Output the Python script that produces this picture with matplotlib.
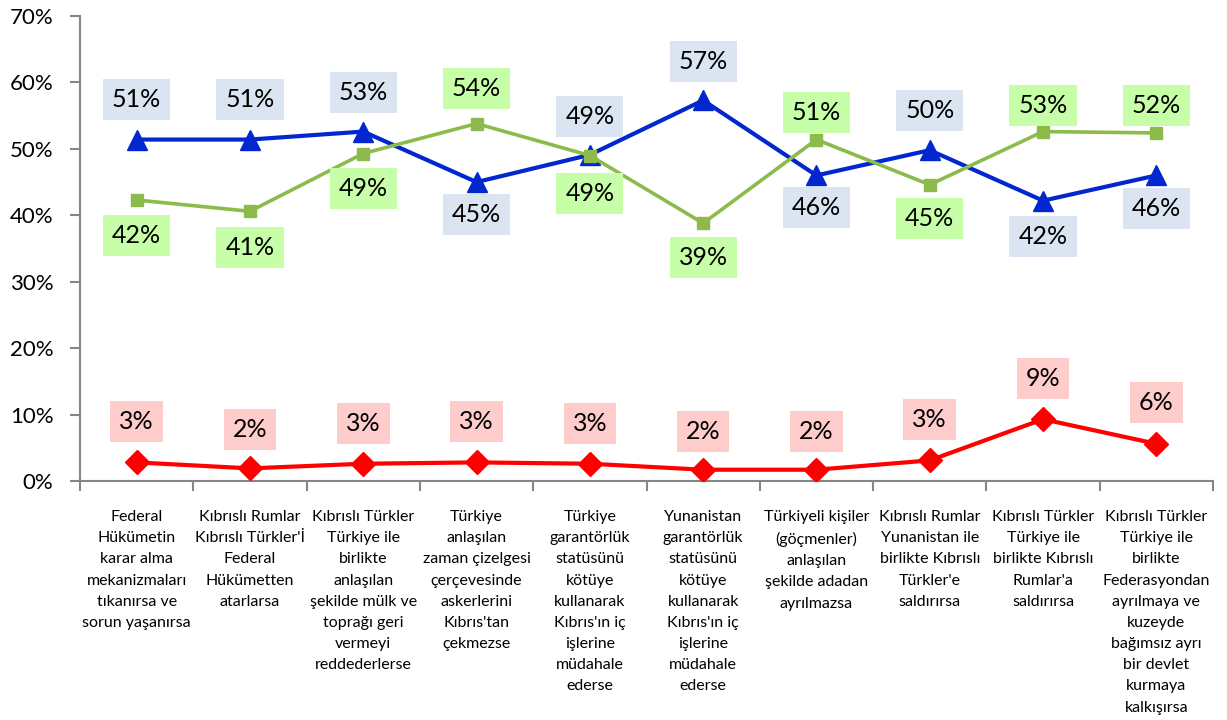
import matplotlib
matplotlib.use('Agg')
from matplotlib import pyplot as plt
from matplotlib.ticker import FixedLocator, PercentFormatter
import numpy as np

plt.rcParams['font.family'] = ['Lato', 'DejaVu Sans']

categories = [
    'Federal\nHükümetin\nkarar alma\nmekanizmaları\ntıkanırsa ve\nsorun yaşanırsa',
    "Kıbrıslı Rumlar\nKıbrıslı Türkler'İ\nFederal\nHükümetten\natarlarsa",
    'Kıbrıslı Türkler\nTürkiye ile\nbirlikte\nanlaşılan\nşekilde mülk ve\ntoprağı geri\nvermeyi\nreddederlerse',
    "Türkiye\nanlaşılan\nzaman çizelgesi\nçerçevesinde\naskerlerini\nKıbrıs'tan\nçekmezse",
    "Türkiye\ngarantörlük\nstatüsünü\nkötüye\nkullanarak\nKıbrıs'ın iç\nişlerine\nmüdahale\nederse",
    "Yunanistan\ngarantörlük\nstatüsünü\nkötüye\nkullanarak\nKıbrıs'ın iç\nişlerine\nmüdahale\nederse",
    'Türkiyeli kişiler\n(göçmenler)\nanlaşılan\nşekilde adadan\nayrılmazsa',
    "Kıbrıslı Rumlar\nYunanistan ile\nbirlikte Kıbrıslı\nTürkler'e\nsaldırırsa",
    "Kıbrıslı Türkler\nTürkiye ile\nbirlikte Kıbrıslı\nRumlar'a\nsaldırırsa",
    'Kıbrıslı Türkler\nTürkiye ile\nbirlikte\nFederasyondan\nayrılmaya ve\nkuzeyde\nbağımsız ayrı\nbir devlet\nkurmaya\nkalkışırsa',
]

blue_vals = [51.4, 51.4, 52.6, 45.0, 49.1, 57.3, 46.0, 49.8, 42.2, 46.0]
green_vals = [42.3, 40.6, 49.3, 53.8, 49.0, 38.8, 51.4, 44.6, 52.6, 52.4]
red_vals = [2.8, 1.9, 2.6, 2.8, 2.6, 1.7, 1.7, 3.1, 9.3, 5.6]

# label offsets in pixels (+ above, - below the marker)
blue_off = [40, 40, 39, -32, 38, 39, -32, 40, -36, -33]
green_off = [-35, -36, -35, 35, -38, -34, 27, -34, 26, 27]
red_off = [41, 39, 40, 41, 40, 38, 38, 41, 41, 41]

series = [
    (blue_vals, '#0327CF', '^', 14, 3.0, '#DBE5F1', blue_off),
    (green_vals, '#8CBB4C', 's', 9, 2.6, '#C6FFA8', green_off),
    (red_vals, '#FF0000', 'D', 12, 3.0, '#FFCCCC', red_off),
]

fig = plt.figure(figsize=(12.27, 7.2), dpi=100)
ax = fig.add_axes([80 / 1227, 1 - 481 / 720, (1213 - 80) / 1227, (481 - 16) / 720])

x = np.arange(len(categories))
for vals, col, mk, ms, lw, boxcol, offs in series:
    ax.plot(x, vals, color=col, lw=lw, marker=mk, markersize=ms,
            markeredgecolor=col, zorder=3)
    for xi, v, off in zip(x, vals, offs):
        ax.annotate(f'{v:.0f}%', (xi, v), xytext=(0, off), textcoords='offset pixels',
                    ha='center', va='center', fontsize=18, color='black',
                    bbox=dict(boxstyle='square,pad=0.36', fc=boxcol, ec='none'),
                    zorder=4)

ax.set_xlim(-0.5, len(categories) - 0.5)
ax.set_ylim(0, 70)
ax.set_yticks(np.arange(0, 71, 10))
ax.yaxis.set_major_formatter(PercentFormatter(decimals=0))
ax.set_xticks(x)
ax.set_xticklabels(categories, fontsize=11.5, linespacing=1.65, va='top')
ax.xaxis.set_minor_locator(FixedLocator(np.arange(-0.5, len(categories), 1)))

for s in ['top', 'right']:
    ax.spines[s].set_visible(False)
for s in ['left', 'bottom']:
    ax.spines[s].set_color('#868686')
    ax.spines[s].set_linewidth(1.5)

ax.tick_params(axis='y', length=7, width=1.5, color='#868686', labelsize=16, pad=12)
ax.tick_params(axis='x', which='major', length=0, pad=21)
ax.tick_params(axis='x', which='minor', length=7, width=1.5, color='#868686')

plt.savefig('out.png', dpi=100)
